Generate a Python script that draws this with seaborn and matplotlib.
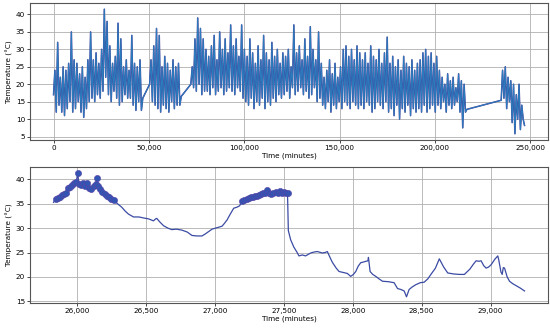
import matplotlib
matplotlib.use("Agg")
import matplotlib.pyplot as plt
from matplotlib.ticker import FuncFormatter, MultipleLocator
import seaborn as sns
import numpy as np
import pandas as pd

# ---- top panel: full record, one trough and one peak per day (°C) ----
day_segments = [(0, 32), (35, 46), (50, 150), (163, 171)]

daily_peak = [
    24, 32, 22, 25, 24, 26, 35, 27, 26, 23, 25, 22, 27,
    35, 27, 29, 26, 30, 41.5, 38, 31, 26, 28, 37.5, 33, 25, 27, 24, 34, 26, 25, 27,
    16,
    27, 31, 36, 34, 25, 28, 26, 24, 27, 25, 26, 16.5,
    25, 33, 39, 36, 33, 30,
    28, 31, 34, 27, 35, 30, 33, 29, 37, 31, 33, 28, 37,
    30, 28, 33, 29, 26, 31, 27, 34, 29, 27, 32, 28, 30, 26, 29,
    28, 30, 25, 37, 29, 31, 27, 33, 28, 36.5, 30, 27, 35, 26,
    22, 24, 27, 23, 26, 22, 25,
    30, 31, 28, 30, 27, 31, 29,
    27, 29, 26, 31, 28, 27, 30, 26, 29, 33.5,
    26, 28, 25, 27, 24, 28, 26, 25, 27, 24, 26,
    27, 29, 30, 28, 29, 26, 28,
    24, 22, 20, 23, 21, 22, 19, 23, 21, 20, 12.8,
    24, 25, 22, 21, 20, 17, 20, 14, 8.2,
]
daily_trough = [
    17, 12, 14, 12, 11, 13, 15, 12, 13, 15, 12, 10.5, 13,
    15, 16, 15, 17, 16, 18, 22, 17, 15, 18, 16, 14, 15, 17, 16, 16, 14, 12.5, 15,
    12.5,
    20, 15, 14, 13, 12, 14, 13, 12, 15, 13, 14, 14,
    20, 19, 18, 20, 17, 18,
    18, 17, 19, 17, 18, 19, 17, 18, 19, 18, 17, 19, 18,
    16, 15, 14, 16, 13, 15, 14, 16, 13, 15, 14, 16, 15, 17, 16,
    17, 18, 16, 19, 17, 18, 19, 17, 18, 16, 17, 19, 15, 16,
    14, 13, 15, 12, 14, 13, 15,
    13, 15, 14, 13, 15, 14, 13,
    14, 13, 15, 14, 12, 13, 15, 14, 13, 15,
    12, 13, 11, 14, 10, 13, 12, 14, 11, 13, 12,
    13, 12, 14, 12, 13, 14, 12,
    14, 13, 15, 12, 14, 13, 14, 15, 12, 7.5, 12,
    15.4, 16, 13, 15, 9, 5.8, 10, 7, 10,
]

# ---- bottom panel: zoomed window (minutes, °C) ----
zoom_time = [
    25830, 25845, 25860, 25875, 25890, 25905, 25920, 25935, 25950, 25965,
    25980, 25995, 26005, 26015, 26030, 26045, 26060, 26075, 26090, 26105,
    26120, 26135, 26145, 26155, 26170, 26185, 26200, 26215, 26230, 26245,
    26265, 26300, 26325, 26350, 26373, 26410, 26450, 26482, 26520, 26555,
    26570, 26579, 26600, 26628, 26660, 26688, 26720, 26761, 26800, 26834,
    26870, 26907, 26930, 26955, 26980, 27004, 27030, 27052, 27070, 27089,
    27110, 27137, 27160, 27180, 27198, 27215, 27230, 27245, 27260, 27275,
    27290, 27305, 27320, 27335, 27350, 27365, 27380, 27395, 27410, 27425,
    27440, 27455, 27470, 27485, 27500, 27515, 27527, 27533, 27550, 27573,
    27597, 27610, 27634, 27658, 27695, 27720, 27743, 27780, 27800, 27816,
    27835, 27852, 27880, 27901, 27930, 27961, 27985, 28005, 28022, 28040,
    28058, 28095, 28110, 28114, 28126, 28145, 28167, 28190, 28216, 28260,
    28300, 28325, 28350, 28373, 28390, 28409, 28430, 28458, 28490, 28518,
    28545, 28567, 28600, 28628, 28660, 28689, 28730, 28773, 28810, 28850,
    28875, 28895, 28915, 28931, 28950, 28967, 28985, 29004, 29030, 29052,
    29059, 29075, 29084, 29092, 29101, 29120, 29137, 29160, 29185, 29215,
    29246,
]
zoom_temp = [
    35.3, 36.0, 36.1, 36.3, 36.9, 37.0, 37.3, 38.2, 38.4, 38.9,
    39.3, 39.5, 41.3, 39.0, 38.8, 39.3, 38.6, 39.2, 38.3, 38.1,
    38.7, 39.1, 40.3, 38.6, 38.0, 37.4, 37.0, 36.7, 36.3, 36.0,
    35.7, 34.9, 34.3, 33.5, 32.9, 32.3, 32.3, 32.1, 31.9, 31.5,
    31.9, 32.0, 31.3, 30.5, 30.0, 29.7, 29.8, 29.6, 29.2, 28.5,
    28.4, 28.4, 28.8, 29.3, 29.8, 30.0, 30.2, 30.4, 31.0, 31.7,
    32.8, 34.1, 34.3, 34.6, 35.6, 35.8, 36.0, 36.2, 36.3, 36.5,
    36.6, 36.7, 36.9, 37.0, 37.2, 37.3, 37.8, 37.2, 37.1, 37.2,
    37.4, 37.3, 37.6, 37.2, 37.5, 37.2, 37.3, 29.5, 27.6, 26.1,
    25.0, 24.3, 24.5, 24.3, 24.9, 25.1, 25.2, 24.9, 25.0, 25.2,
    24.0, 23.0, 21.8, 21.1, 20.9, 20.7, 20.1, 20.5, 21.1, 22.2,
    22.9, 23.2, 23.3, 24.0, 21.1, 20.5, 20.1, 19.6, 19.1, 19.0,
    18.8, 17.6, 17.4, 17.1, 15.9, 17.4, 17.9, 18.4, 18.8, 18.9,
    19.6, 20.5, 21.8, 23.7, 22.0, 20.8, 20.6, 20.5, 20.5, 21.6,
    22.6, 23.3, 23.2, 23.3, 22.3, 21.8, 22.0, 22.5, 23.6, 24.3,
    23.5, 21.0, 20.5, 21.9, 21.8, 20.0, 19.1, 18.6, 18.2, 17.7,
    17.1,
]
HIGH_TEMP = 35.5

DARK = "#4a3c9a"
BLUE = "#2a7cbc"
LINE2 = "#3b4ba3"

plt.rcParams.update({"font.size": 5.2, "font.family": ["DejaVu Sans"]})

days = np.concatenate([np.arange(a, b + 1) for a, b in day_segments])
assert len(days) == len(daily_peak) == len(daily_trough)
top = pd.DataFrame({
    "time": np.column_stack([days * 1440, days * 1440 + 720]).ravel(),
    "temp": np.column_stack([daily_trough, daily_peak]).ravel(),
})
bottom = pd.DataFrame({"time": zoom_time, "temp": zoom_temp})
hot = bottom[bottom["temp"] >= HIGH_TEMP]

fig = plt.figure(figsize=(5.5, 3.31), dpi=100)
ax1 = fig.add_axes([0.0545, 0.577, 0.942, 0.414])
ax2 = fig.add_axes([0.0545, 0.0846, 0.942, 0.411])

sns.lineplot(data=top, x="time", y="temp", sort=False, estimator=None,
             color=DARK, lw=1.1, ax=ax1)
sns.lineplot(data=top, x="time", y="temp", sort=False, estimator=None,
             color=BLUE, lw=0.75, ax=ax1)

sns.lineplot(data=bottom, x="time", y="temp", sort=False, estimator=None,
             color=LINE2, lw=0.9, ax=ax2)
sns.scatterplot(data=hot, x="time", y="temp", s=20, color="#3354b2",
                edgecolor="#5a44a6", linewidth=0.4, zorder=3, ax=ax2)

thousands = FuncFormatter(lambda v, p: f"{v:,.0f}")
ax1.xaxis.set_major_locator(MultipleLocator(50000))
ax1.yaxis.set_major_locator(MultipleLocator(5))
ax2.xaxis.set_major_locator(MultipleLocator(500))
ax2.yaxis.set_major_locator(MultipleLocator(5))

for ax in (ax1, ax2):
    ax.xaxis.set_major_formatter(thousands)
    ax.grid(True, color="#b0b0b0", lw=0.6)
    ax.set_axisbelow(True)
    ax.set_xlabel("Time (minutes)", labelpad=1)
    ax.set_ylabel("Temperature (°C)", labelpad=2)
    ax.tick_params(length=2, width=0.5, pad=1.5)
    for s in ax.spines.values():
        s.set_color("#555555")
        s.set_linewidth(0.8)

fig.savefig("out.png", dpi=100)
